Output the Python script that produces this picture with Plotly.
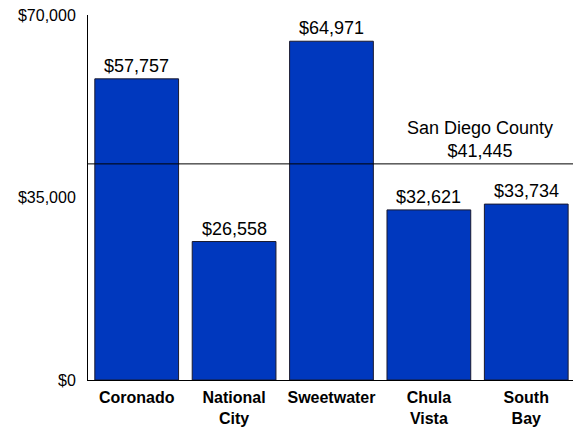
import plotly.graph_objects as go

# Median household income by area
areas = ["Coronado", "National<br>City", "Sweetwater", "Chula<br>Vista", "South<br>Bay"]
incomes = [57757, 26558, 64971, 32621, 33734]
county_name = "San Diego County"
county_income = 41445
y_ticks = [0, 35000, 70000]
y_tick_labels = ["$0", "$35,000", "$70,000"]

FONT = "Liberation Sans, Arial, sans-serif"
BAR_COLOR = "#0038BE"

fig = go.Figure()
fig.add_trace(go.Bar(
    x=list(range(len(areas))),
    y=incomes,
    marker=dict(color=BAR_COLOR, line=dict(color="#1a1a2e", width=1)),
    width=0.86,
    hoverinfo="skip",
))

# value labels above each bar
for i, v in enumerate(incomes):
    fig.add_annotation(
        x=i, y=v, xref="x", yref="y",
        text=f"${v:,}", showarrow=False,
        yanchor="bottom", yshift=1,
        font=dict(family=FONT, size=18, color="black"),
    )

# county reference line
fig.add_shape(
    type="line", xref="paper", yref="y",
    x0=0, x1=1, y0=county_income, y1=county_income,
    line=dict(color="black", width=1),
)
fig.add_annotation(
    x=3.52, y=county_income, xref="x", yref="y",
    text=f"{county_name}<br>${county_income:,}", showarrow=False,
    yanchor="bottom", yshift=1,
    font=dict(family=FONT, size=18, color="black"),
)

fig.update_layout(
    width=573, height=430,
    margin=dict(l=88, r=0, t=15, b=50),
    paper_bgcolor="white", plot_bgcolor="white",
    showlegend=False,
    font=dict(family=FONT, color="black"),
    xaxis=dict(
        range=[-0.5, 4.48],
        tickmode="array",
        tickvals=list(range(len(areas))),
        ticktext=[f"<b>{a}</b>" for a in areas],
        tickfont=dict(family=FONT, size=16, color="black"),
        ticklabelstandoff=3,
        showline=True, linecolor="black", linewidth=1,
        ticks="", showgrid=False, zeroline=False,
    ),
    yaxis=dict(
        range=[0, 70000],
        tickmode="array",
        tickvals=y_ticks,
        ticktext=y_tick_labels,
        tickfont=dict(family=FONT, size=16, color="black"),
        ticklabelstandoff=8,
        showline=True, linecolor="black", linewidth=1,
        ticks="", ticklen=0, showgrid=False, zeroline=False,
    ),
)

fig.write_html("out.html")
